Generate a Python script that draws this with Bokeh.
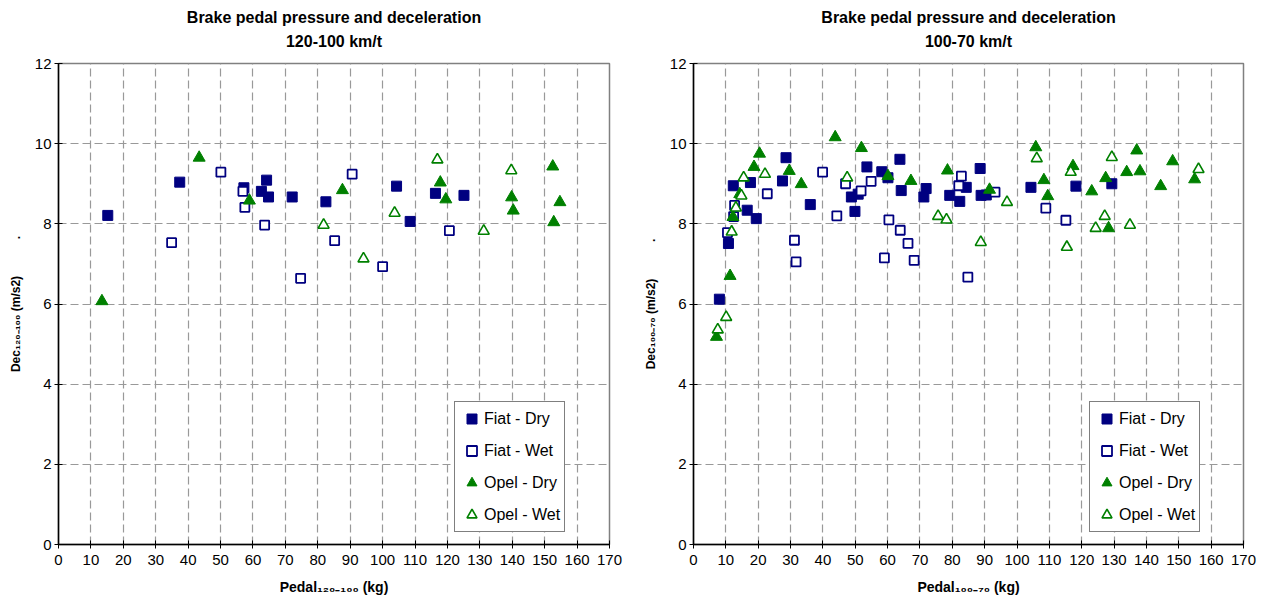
from bokeh.plotting import figure
from bokeh.layouts import row
from bokeh.models import Range1d, FixedTicker, Title
from bokeh.embed import file_html
from bokeh.resources import INLINE

FONT = "Liberation Sans"
NAVY = "#000080"
GREEN = "#008000"

x_ticks = list(range(0, 171, 10))
y_ticks = [0, 2, 4, 6, 8, 10, 12]

# ---- Left chart: 120-100 km/t ----
l_fiat_dry_x = [15.2, 37.4, 57.2, 62.6, 64.2, 64.8, 72.1, 82.5, 104.3, 108.5, 116.3, 125.1]
l_fiat_dry_y = [8.21, 9.04, 8.90, 8.81, 9.09, 8.67, 8.67, 8.55, 8.94, 8.06, 8.76, 8.71]
l_fiat_wet_x = [34.9, 50.1, 56.9, 57.5, 63.6, 74.7, 85.2, 90.6, 100.0, 120.6]
l_fiat_wet_y = [7.53, 9.29, 8.81, 8.41, 7.97, 6.64, 7.58, 9.24, 6.93, 7.83]
l_opel_dry_x = [13.4, 43.4, 58.9, 87.6, 117.8, 119.5, 139.8, 140.3, 152.5, 152.8, 154.7]
l_opel_dry_y = [6.07, 9.65, 8.58, 8.84, 9.03, 8.61, 8.66, 8.33, 9.43, 8.04, 8.54]
l_opel_wet_x = [81.8, 94.1, 103.7, 116.9, 131.2, 139.7]
l_opel_wet_y = [7.97, 7.13, 8.27, 9.60, 7.82, 9.33]

# ---- Right chart: 100-70 km/t ----
r_fiat_dry_x = [8.0, 10.8, 12.3, 16.6, 17.6, 19.4, 27.5, 28.6, 36.1, 48.8, 49.9, 50.9, 53.6, 58.2,
                60.1, 63.8, 64.2, 71.2, 71.9, 79.2, 82.3, 84.3, 88.6, 88.9, 90.5, 104.3, 118.2, 129.3]
r_fiat_dry_y = [6.12, 7.51, 8.95, 8.34, 9.03, 8.13, 9.07, 9.65, 8.48, 8.67, 8.31, 8.74, 9.42, 9.30,
                9.15, 9.61, 8.83, 8.67, 8.88, 8.71, 8.56, 8.91, 9.38, 8.71, 8.72, 8.91, 8.94, 9.00]
r_fiat_wet_x = [10.5, 12.4, 12.7, 22.8, 31.2, 31.7, 39.9, 44.3, 47.0, 51.8, 54.9, 59.0, 60.4, 63.9,
                66.3, 68.2, 82.0, 82.8, 84.8, 93.2, 108.9, 115.1]
r_fiat_wet_y = [7.78, 8.18, 8.46, 8.75, 7.59, 7.05, 9.29, 8.20, 9.00, 8.82, 9.06, 7.15, 8.10, 7.84,
                7.51, 7.09, 8.95, 9.19, 6.67, 8.79, 8.39, 8.09]
r_opel_dry_x = [7.1, 11.3, 12.2, 14.3, 18.7, 20.4, 29.6, 33.3, 43.8, 51.9, 60.1, 67.2, 78.5, 91.5,
                105.8, 108.3, 109.5, 117.3, 123.1, 127.4, 128.3, 133.9, 137.0, 138.0, 144.4, 148.1, 154.9]
r_opel_dry_y = [5.18, 6.70, 8.17, 8.74, 9.42, 9.75, 9.32, 8.99, 10.16, 9.89, 9.19, 9.07, 9.33, 8.85,
                9.91, 9.09, 8.69, 9.44, 8.81, 9.14, 7.89, 9.29, 9.83, 9.31, 8.94, 9.56, 9.11]
r_opel_wet_x = [7.5, 10.1, 11.8, 13.1, 14.8, 15.5, 22.1, 47.5, 75.6, 78.2, 88.8, 96.9, 106.1, 115.4,
                116.6, 124.3, 127.1, 129.3, 134.9, 156.1]
r_opel_wet_y = [5.36, 5.67, 7.80, 8.40, 8.70, 9.15, 9.24, 9.15, 8.19, 8.10, 7.54, 8.54, 9.63, 7.42,
                9.29, 7.89, 8.19, 9.66, 7.97, 9.36]

series_names = ["Fiat - Dry", "Fiat - Wet", "Opel - Dry", "Opel - Wet"]
NB = "\u00a0"
MAIN_TITLE = "Brake pedal pressure and deceleration"


def make_fig(sub, xlab, ylab, data, width, bl, br):
    p = figure(width=width, height=597, output_backend="svg", toolbar_location=None,
               x_range=Range1d(0, 170), y_range=Range1d(0, 12),
               min_border_left=bl, min_border_right=br, min_border_top=63, min_border_bottom=0)
    p.background_fill_color = "white"
    p.border_fill_color = "white"
    p.outline_line_color = "#808080"
    p.outline_line_width = 1.5

    # spacer between frame and the subtitle line
    p.add_layout(Title(text=" ", align="center", text_font=FONT, text_font_size="1px",
                       standoff=8), "above")
    p.add_layout(Title(text=sub, align="center", text_font=FONT, text_font_size="16px",
                       text_font_style="bold", text_color="black", standoff=5), "above")
    p.add_layout(Title(text=MAIN_TITLE, align="center", text_font=FONT,
                       text_font_size="16px", text_font_style="bold", text_color="black",
                       standoff=6), "above")

    for ax, ticks in ((p.xaxis[0], x_ticks), (p.yaxis[0], y_ticks)):
        ax.ticker = FixedTicker(ticks=ticks)
        ax.axis_line_color = "black"
        ax.axis_line_width = 1.5
        ax.major_tick_line_color = "black"
        ax.major_tick_in = 4
        ax.major_tick_out = 4
        ax.minor_tick_line_color = None
        ax.major_label_text_font = FONT
        ax.major_label_text_font_size = "15px"
        ax.major_label_text_color = "black"
        ax.axis_label_text_font = FONT
        ax.axis_label_text_font_style = "bold"
        ax.axis_label_text_color = "black"
    p.xaxis[0].axis_label_text_font_size = "14px"
    p.yaxis[0].axis_label_text_font_size = "12px"
    p.xaxis[0].axis_label = xlab
    p.yaxis[0].axis_label = ylab
    p.xaxis[0].major_label_standoff = 6
    p.yaxis[0].major_label_standoff = 3
    p.xaxis[0].axis_label_standoff = 11
    p.yaxis[0].axis_label_standoff = 9

    for g in (p.xgrid[0], p.ygrid[0]):
        g.grid_line_color = "#999999"
        g.grid_line_dash = "8 4"
        g.grid_line_width = 1.2
    p.xgrid[0].ticker = FixedTicker(ticks=x_ticks)
    p.ygrid[0].ticker = FixedTicker(ticks=y_ticks)

    (fdx, fdy), (fwx, fwy), (odx, ody), (owx, owy) = data
    p.scatter(fdx, fdy, marker="square", size=10, fill_color=NAVY, line_color=NAVY,
              legend_label=series_names[0])
    p.scatter(fwx, fwy, marker="square", size=9, fill_color="white", line_color=NAVY,
              line_width=1.8, legend_label=series_names[1])
    p.scatter(odx, ody, marker="triangle", size=12, fill_color=GREEN, line_color=GREEN,
              legend_label=series_names[2])
    p.scatter(owx, owy, marker="triangle", size=11, fill_color="white", line_color=GREEN,
              line_width=1.6, legend_label=series_names[3])

    lg = p.legend[0]
    lg.location = (396, 12)
    lg.border_line_color = "black"
    lg.border_line_width = 1
    lg.background_fill_color = "white"
    lg.background_fill_alpha = 1
    lg.label_text_font = FONT
    lg.label_text_font_size = "16px"
    lg.label_text_color = "black"
    lg.glyph_width = 25
    lg.glyph_height = 25
    lg.label_height = 25
    lg.label_standoff = 0
    lg.spacing = 7
    lg.padding = 4
    lg.margin = 0
    return p


left = make_fig("120-100 km/t", "Pedal\u2081\u2082\u2080\u208b\u2081\u2080\u2080 (kg)",
                "Dec\u2081\u2082\u2080\u208b\u2081\u2080\u2080 (m/s2)" + NB * 11 + ".",
                ((l_fiat_dry_x, l_fiat_dry_y), (l_fiat_wet_x, l_fiat_wet_y),
                 (l_opel_dry_x, l_opel_dry_y), (l_opel_wet_x, l_opel_wet_y)),
                640, 58, 31)
right = make_fig("100-70 km/t", "Pedal\u2081\u2080\u2080\u208b\u2087\u2080 (kg)",
                 "Dec\u2081\u2080\u2080\u208b\u2087\u2080 (m/s2)" + NB * 11 + ".",
                 ((r_fiat_dry_x, r_fiat_dry_y), (r_fiat_wet_x, r_fiat_wet_y),
                  (r_opel_dry_x, r_opel_dry_y), (r_opel_wet_x, r_opel_wet_y)),
                 618, 52, 15)

layout = row(left, right)
open("out.html", "w").write(file_html(layout, INLINE))
